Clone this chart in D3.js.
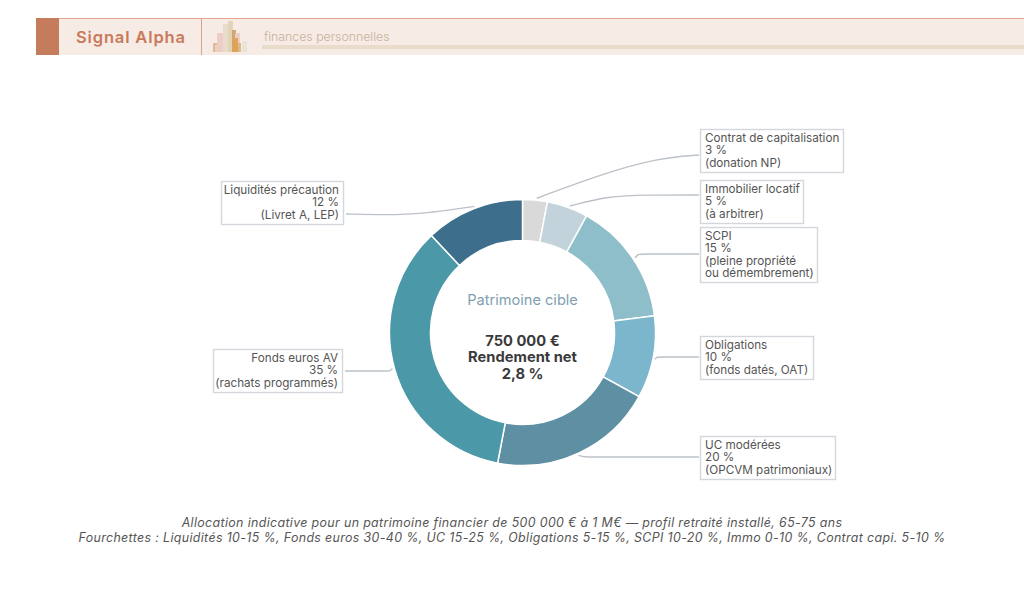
<!DOCTYPE html>
<html lang="fr">
<head>
<meta charset="utf-8">
<script src="https://cdn.jsdelivr.net/npm/d3@7"></script>
<style>
html,body{margin:0;padding:0;background:#fff;}
svg{display:block;}
</style>
</head>
<body>
<svg id="chart" width="1024" height="615"></svg>
<script>
// Allocation data, clockwise from twelve o'clock
const categories = ["Contrat de capitalisation","Immobilier locatif","SCPI","Obligations","UC modérées","Fonds euros AV","Liquidités précaution"];
const shares = [3,5,15,10,20,35,12];
const notes = [["(donation NP)"],["(à arbitrer)"],["(pleine propriété","ou démembrement)"],["(fonds datés, OAT)"],["(OPCVM patrimoniaux)"],["(rachats programmés)"],["(Livret A, LEP)"]];
const colours = ["#d9d9d9","#c3d3db","#8ebec9","#7bb6cc","#5f8fa3","#4b98a8","#3d6f8c"];
const footLines = [
  "Allocation indicative pour un patrimoine financier de 500 000 € à 1 M€ — profil retraité installé, 65-75 ans",
  "Fourchettes : Liquidités 10-15 %, Fonds euros 30-40 %, UC 15-25 %, Obligations 5-15 %, SCPI 10-20 %, Immo 0-10 %, Contrat capi. 5-10 %"
];
const centreLines = ["750 000 €","Rendement net","2,8 %"];
// Small skyline logo in the header: x, width, height, colour
const bookBars = [[213,6,9,"#e9b48e"],[215,5,7,"#dcd8c4"],[217,6,19,"#eccbc5"],[223,6,28,"#e6dcc8"],[228,5,31,"#e3d2b4"],[232,4,22,"#c9a56f"],[235,5,19,"#eccbc5"],[233,5,14,"#e0a050"],[238,3,9,"#e0b68a"],[242,5,11,"#e8e4d4"]];

// Label boxes: left edge, top, width, height, side of the ring
const boxes = [
  {x:700,y:129,w:143,h:43,side:"r",ly:155},
  {x:700,y:180,w:103,h:43,side:"r",ly:195},
  {x:700,y:227,w:117,h:55,side:"r",ly:254},
  {x:700,y:336,w:113,h:43,side:"r",ly:357},
  {x:700,y:436,w:135,h:43,side:"r",ly:457},
  {x:213,y:349,w:129,h:43,side:"l",ly:371},
  {x:221,y:181,w:122,h:43,side:"l",ly:214}
];

const svg = d3.select("#chart");
const uiFont = "Inter, sans-serif";

// Header band
const head = svg.append("g");
head.append("rect").attr("x",36).attr("y",18).attr("width",988).attr("height",37).attr("fill","#f6ebe5");
head.append("rect").attr("x",36).attr("y",18).attr("width",988).attr("height",1).attr("fill","#e3a68d");
head.append("rect").attr("x",36).attr("y",18).attr("width",23).attr("height",37).attr("fill","#c57c5c");
head.append("rect").attr("x",201).attr("y",18).attr("width",1).attr("height",37).attr("fill","#d9a08a");
head.append("rect").attr("x",262).attr("y",45).attr("width",762).attr("height",4).attr("fill","#eadccb");
head.append("text").attr("x",76).attr("y",43).attr("font-family",uiFont).attr("font-weight",600)
  .attr("font-size",16.5).attr("letter-spacing",0.85).attr("fill","#c9795a").text("Signal Alpha");
head.append("text").attr("x",264).attr("y",40.5).attr("font-family",uiFont).attr("font-size",12.3)
  .attr("font-weight",300).attr("fill","#c7b29c").text("finances personnelles");
head.selectAll("rect.book").data(bookBars).join("rect").attr("class","book")
  .attr("x",d=>d[0]).attr("y",d=>52-d[2]).attr("width",d=>d[1]).attr("height",d=>d[2])
  .attr("fill",d=>d[3]).attr("opacity",0.95);

// Donut
const cx = 522.5, cy = 332.5, outer = 133, inner = 92;
const pie = d3.pie().sort(null).value(d=>d);
const arcs = pie(shares);
const arc = d3.arc().innerRadius(inner).outerRadius(outer);
const g = svg.append("g").attr("transform",`translate(${cx},${cy})`);
g.selectAll("path.slice").data(arcs).join("path").attr("class","slice")
  .attr("d",arc).attr("fill",(d,i)=>colours[i]).attr("stroke","#fff").attr("stroke-width",1.5);

// Leader lines run from the rim of each slice to its label box
const curve = d3.line().curve(d3.curveBasis);
const rimPoint = d => {
  const a = (d.startAngle+d.endAngle)/2 + 0.012;
  return [(outer+2)*Math.sin(a), -(outer+2)*Math.cos(a)];
};
g.selectAll("path.leader").data(arcs).join("path").attr("class","leader")
  .attr("fill","none").attr("stroke","#bcc2c8").attr("stroke-width",1.4)
  .attr("d",(d,i)=>{
    const p = rimPoint(d), b = boxes[i];
    const ex = (b.side==="r" ? b.x-1 : b.x+b.w+3)-cx, ey = b.ly-cy;
    const dx = ex-p[0];
    // Mild bend for the upper labels, a short elbow for the others
    if (i===0) return curve([p,p,[p[0]+dx*0.4,ey+19],[p[0]+dx*0.75,ey+3],[ex,ey],[ex,ey]]);
    if (i===1) return curve([p,p,[p[0]+dx*0.3,ey+1],[p[0]+dx*0.6,ey],[ex,ey],[ex,ey]]);
    if (i===6) return curve([p,p,[p[0]+dx*0.4,ey],[p[0]+dx*0.7,ey+1],[ex,ey],[ex,ey]]);
    return curve([p,[p[0]+dx*0.05,ey],[p[0]+dx*0.1,ey],[ex,ey],[ex,ey]]);
  });

// Label boxes
const lab = svg.selectAll("g.lab").data(categories).join("g").attr("class","lab");
lab.append("rect").attr("x",(d,i)=>boxes[i].x+.5).attr("y",(d,i)=>boxes[i].y+.5)
  .attr("width",(d,i)=>boxes[i].w).attr("height",(d,i)=>boxes[i].h)
  .attr("fill","#fff").attr("stroke","#d3d7db").attr("stroke-width",1.4);
lab.each(function(d,i){
  const b = boxes[i], right = b.side==="l";
  const lines = [d, shares[i]+" %", ...notes[i]];
  d3.select(this).selectAll("text").data(lines).join("text")
    .attr("x",right ? b.x+b.w-4 : b.x+5)
    .attr("y",(t,k)=>b.y+13+k*12.3)
    .attr("text-anchor",right?"end":"start")
    .attr("font-family",uiFont).attr("font-size",11.7).attr("fill","#555")
    .text(t=>t);
});

// Centre text
g.append("text").attr("y",-28).attr("text-anchor","middle").attr("font-family",uiFont)
  .attr("font-size",14.6).attr("fill","#7f9fb0").text("Patrimoine cible");
g.selectAll("text.c").data(centreLines).join("text").attr("class","c")
  .attr("y",(d,i)=>13+i*16.5).attr("text-anchor","middle").attr("font-family",uiFont)
  .attr("font-size",14.7).attr("font-weight",700).attr("fill","#3a3a3a").text(d=>d);

// Footnote
svg.selectAll("text.foot").data(footLines).join("text").attr("class","foot")
  .attr("x",512).attr("y",(d,i)=>527+i*15).attr("text-anchor","middle")
  .attr("font-family",uiFont).attr("font-style","italic").attr("font-size",12.4)
  .attr("letter-spacing",0.36).attr("fill","#555").text(d=>d);
</script>
</body>
</html>
